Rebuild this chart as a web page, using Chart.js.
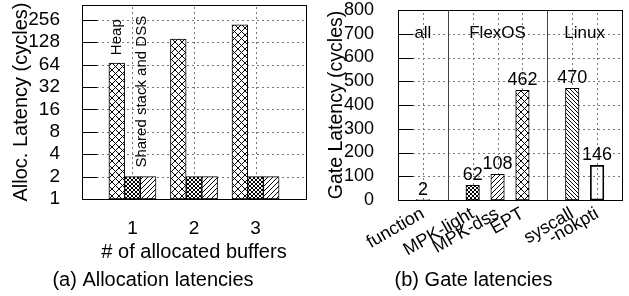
<!DOCTYPE html>
<html>
<head>
<meta charset="utf-8">
<script src="https://cdn.jsdelivr.net/npm/chart.js@4.4.0/dist/chart.umd.min.js"></script>
<style>
  html, body { margin: 0; padding: 0; background: #fff; }
  #alloc { position: absolute; left: 0; top: 0; }
  #gate { position: absolute; left: 325px; top: 0; }
</style>
</head>
<body>
<canvas id="alloc" width="325" height="296"></canvas>
<canvas id="gate" width="304" height="296"></canvas>
<script>
// (a) allocation latencies, log2 axis
const allocBuffers = [1, 2, 3];
const heapLatency = [67, 141, 219];
const sharedStackLatency = [2, 2, 2];
const dssLatency = [2, 2, 2];
const allocTicks = [1, 2, 4, 8, 16, 32, 64, 128, 256];

// (b) gate latencies, '' entries are the gaps between the groups
const gateLabels = ['', 'function', '', 'MPK-light', 'MPK-dss', 'EPT', '', 'syscall', '-nokpti', ''];
const gateLatency = [null, 2, null, 62, 108, 462, null, 470, 146, null];
const gateGroups = ['all', 'FlexOS', 'Linux'];
const gateTicks = [0, 100, 200, 300, 400, 500, 600, 700, 800];

const FONT = '"Liberation Sans", Arial, sans-serif';
Chart.defaults.font.family = FONT;
Chart.defaults.color = '#000';

// gnuplot-like fill patterns
function hatch(kind) {
  if (kind === 'none') return 'rgba(0,0,0,0)';
  const s = { cross: 7, dense: 4, fwd: 5, back: 4 }[kind];
  const c = document.createElement('canvas');
  c.width = c.height = s;
  const g = c.getContext('2d');
  g.fillStyle = '#fff';
  g.fillRect(0, 0, s, s);
  g.strokeStyle = '#000';
  g.lineWidth = 1;
  g.beginPath();
  if (kind !== 'back') {
    g.moveTo(-1, s + 1); g.lineTo(s + 1, -1);
    g.moveTo(-1, 1); g.lineTo(1, -1);
    g.moveTo(s - 1, s + 1); g.lineTo(s + 1, s - 1);
  }
  if (kind === 'back' || kind === 'cross' || kind === 'dense') {
    g.moveTo(-1, -1); g.lineTo(s + 1, s + 1);
    g.moveTo(s - 1, -1); g.lineTo(s + 1, 1);
    g.moveTo(-1, s - 1); g.lineTo(1, s + 1);
  }
  g.stroke();
  return g.createPattern(c, 'repeat');
}

const gateFill = {
  'function': 'none', 'MPK-light': 'dense', 'MPK-dss': 'fwd',
  'EPT': 'cross', 'syscall': 'back', '-nokpti': 'none'
};

// short dashes, drawn one by one so they stay crisp
function dotted(ctx, x1, y1, x2, y2) {
  const len = Math.hypot(x2 - x1, y2 - y1);
  const dx = (x2 - x1) / len, dy = (y2 - y1) / len;
  for (let d = 0; d < len; d += 5) {
    const e = Math.min(d + 2, len);
    ctx.moveTo(x1 + dx * d, y1 + dy * d);
    ctx.lineTo(x1 + dx * e, y1 + dy * e);
  }
}

// dotted grid under the bars, box and inward y ticks on top
const frame = {
  id: 'frame',
  beforeDatasetsDraw(chart) {
    const { ctx, chartArea: a, scales } = chart;
    ctx.save();
    ctx.strokeStyle = '#777';
    ctx.lineWidth = 1;
    ctx.beginPath();
    scales.y.ticks.forEach(t => {
      const y = Math.round(scales.y.getPixelForValue(t.value)) + 0.5;
      if (y < a.top + 2 || y > a.bottom - 2) return;
      dotted(ctx, a.left + 15, y, a.right, y);
    });
    scales.x.ticks.forEach((t, i) => {
      if (t.label === '') return;
      const x = Math.round(scales.x.getPixelForTick(i)) + 0.5;
      dotted(ctx, x, a.bottom, x, a.top);
    });
    ctx.stroke();
    ctx.restore();
  },
  afterDatasetsDraw(chart) {
    const { ctx, chartArea: a, scales } = chart;
    ctx.save();
    ctx.strokeStyle = '#000';
    ctx.lineWidth = 1;
    ctx.beginPath();
    scales.y.ticks.forEach(t => {
      const y = Math.round(scales.y.getPixelForValue(t.value)) + 0.5;
      ctx.moveTo(a.left, y);
      ctx.lineTo(a.left + 15, y);
    });
    ctx.stroke();
    ctx.strokeRect(Math.round(a.left) + 0.5, Math.round(a.top) + 0.5,
                   Math.round(a.width), Math.round(a.height));
    ctx.restore();
  }
};

function vtext(ctx, text, x, y) {
  ctx.save();
  ctx.translate(x, y);
  ctx.rotate(-Math.PI / 2);
  ctx.fillText(text, 0, 0);
  ctx.restore();
}

const noPad = s => { s.paddingTop = 0; s.paddingBottom = 0; s.paddingLeft = 0; s.paddingRight = 0; };

/* ---------- (a) ---------- */
const toXY = vals => allocBuffers.map((b, i) => ({ x: b, y: vals[i] }));

new Chart(document.getElementById('alloc'), {
  type: 'bar',
  data: {
    datasets: [
      { label: 'Heap', data: toXY(heapLatency), backgroundColor: hatch('cross') },
      { label: 'Shared stack', data: toXY(sharedStackLatency), backgroundColor: hatch('dense') },
      { label: 'DSS', data: toXY(dssLatency), backgroundColor: hatch('fwd') }
    ]
  },
  options: {
    responsive: false,
    animation: false,
    layout: { padding: { top: 5, right: 19, bottom: 0, left: 0 } },
    datasets: { bar: { barThickness: 15.7, borderColor: '#000', borderWidth: 1, borderSkipped: false } },
    plugins: {
      legend: { display: false },
      tooltip: { enabled: false },
      title: {
        display: true, position: 'bottom', text: '(a) Allocation latencies',
        font: { size: 20, weight: 'normal' }, padding: { top: 4, bottom: 4 }
      }
    },
    scales: {
      x: {
        type: 'linear', min: 0.18, max: 3.82, offset: false,
        afterBuildTicks: s => { s.ticks = allocBuffers.map(v => ({ value: v })); },
        afterFit: s => { s.height = 65; noPad(s); },
        grid: { display: false, offset: false },
        border: { display: false },
        ticks: { padding: 10, font: { size: 19 } },
        title: { display: true, text: '# of allocated buffers', font: { size: 20 }, padding: { top: 0, bottom: 0 } }
      },
      y: {
        type: 'logarithmic', min: 1, max: 405,
        afterBuildTicks: s => { s.ticks = allocTicks.map(v => ({ value: v })); },
        afterFit: s => { s.width = 82; noPad(s); },
        grid: { display: false },
        border: { display: false },
        ticks: { autoSkip: false, padding: 14, font: { size: 19 }, callback: v => String(v) },
        title: { display: true, text: 'Alloc. Latency (cycles)', font: { size: 20 }, padding: { top: 9, bottom: 0 } }
      }
    }
  },
  plugins: [frame, {
    id: 'allocNotes',
    afterDatasetsDraw(chart) {
      const ctx = chart.ctx;
      const heap = chart.getDatasetMeta(0).data[0];
      const shared = chart.getDatasetMeta(1).data[0];
      const dss = chart.getDatasetMeta(2).data[0];
      ctx.save();
      ctx.fillStyle = '#000';
      ctx.font = '15px ' + FONT;
      ctx.textAlign = 'left';
      ctx.textBaseline = 'middle';
      vtext(ctx, 'Heap', heap.x, heap.y - 8);
      vtext(ctx, 'Shared stack and DSS', (shared.x + dss.x) / 2 + 2, shared.y - 9);
      ctx.restore();
    }
  }]
});

/* ---------- (b) ---------- */
new Chart(document.getElementById('gate'), {
  type: 'bar',
  data: {
    labels: gateLabels,
    datasets: [{
      label: 'Gate latency',
      data: gateLatency,
      backgroundColor: c => hatch(gateFill[gateLabels[c.dataIndex]] || 'none')
    }]
  },
  options: {
    responsive: false,
    animation: false,
    layout: { padding: { top: 10, right: 7, bottom: 0, left: 0 } },
    datasets: { bar: { barThickness: 13.5, borderColor: '#000', borderWidth: 1, borderSkipped: false } },
    plugins: {
      legend: { display: false },
      tooltip: { enabled: false },
      title: {
        display: true, position: 'bottom', text: '(b) Gate latencies',
        font: { size: 20, weight: 'normal' }, padding: { top: 4, bottom: 4 }
      }
    },
    scales: {
      x: {
        type: 'category', offset: false,
        afterFit: s => { s.height = 64; noPad(s); },
        grid: { display: false, offset: false },
        border: { display: false },
        ticks: { autoSkip: false, minRotation: 30, maxRotation: 30, padding: -5, font: { size: 18 } }
      },
      y: {
        type: 'linear', min: 0, max: 800,
        afterBuildTicks: s => { s.ticks = gateTicks.map(v => ({ value: v })); },
        afterFit: s => { s.width = 73; noPad(s); },
        grid: { display: false },
        border: { display: false },
        ticks: { autoSkip: false, padding: 16, font: { size: 18 } },
        title: { display: true, text: 'Gate Latency (cycles)', font: { size: 19.5 }, padding: { top: 0, bottom: 0 } }
      }
    }
  },
  plugins: [frame, {
    id: 'gateNotes',
    afterDatasetsDraw(chart) {
      const { ctx, chartArea: a } = chart;
      const x = chart.scales.x;
      const y = chart.scales.y;
      ctx.save();
      // solid separators at the empty slots between groups
      const edges = [0];
      gateLabels.forEach((l, i) => { if (!l && i > 0 && i < gateLabels.length - 1) edges.push(i); });
      edges.push(gateLabels.length - 1);
      ctx.strokeStyle = '#444';
      ctx.lineWidth = 1;
      ctx.beginPath();
      edges.slice(1, -1).forEach(i => {
        const px = Math.round(x.getPixelForValue(i)) + 0.5;
        ctx.moveTo(px, a.top);
        ctx.lineTo(px, a.bottom);
      });
      ctx.stroke();
      ctx.fillStyle = '#000';
      ctx.font = '17px ' + FONT;
      ctx.textAlign = 'center';
      ctx.textBaseline = 'middle';
      gateGroups.forEach((g, k) => {
        const cx = (x.getPixelForValue(edges[k]) + x.getPixelForValue(edges[k + 1])) / 2;
        ctx.fillText(g, cx, y.getPixelForValue(700));
      });
      ctx.font = '18px ' + FONT;
      ctx.textBaseline = 'alphabetic';
      chart.getDatasetMeta(0).data.forEach((bar, i) => {
        if (gateLatency[i] == null) return;
        ctx.fillText(String(gateLatency[i]), bar.x, bar.y - 5);
      });
      ctx.restore();
    }
  }]
});
</script>
</body>
</html>
